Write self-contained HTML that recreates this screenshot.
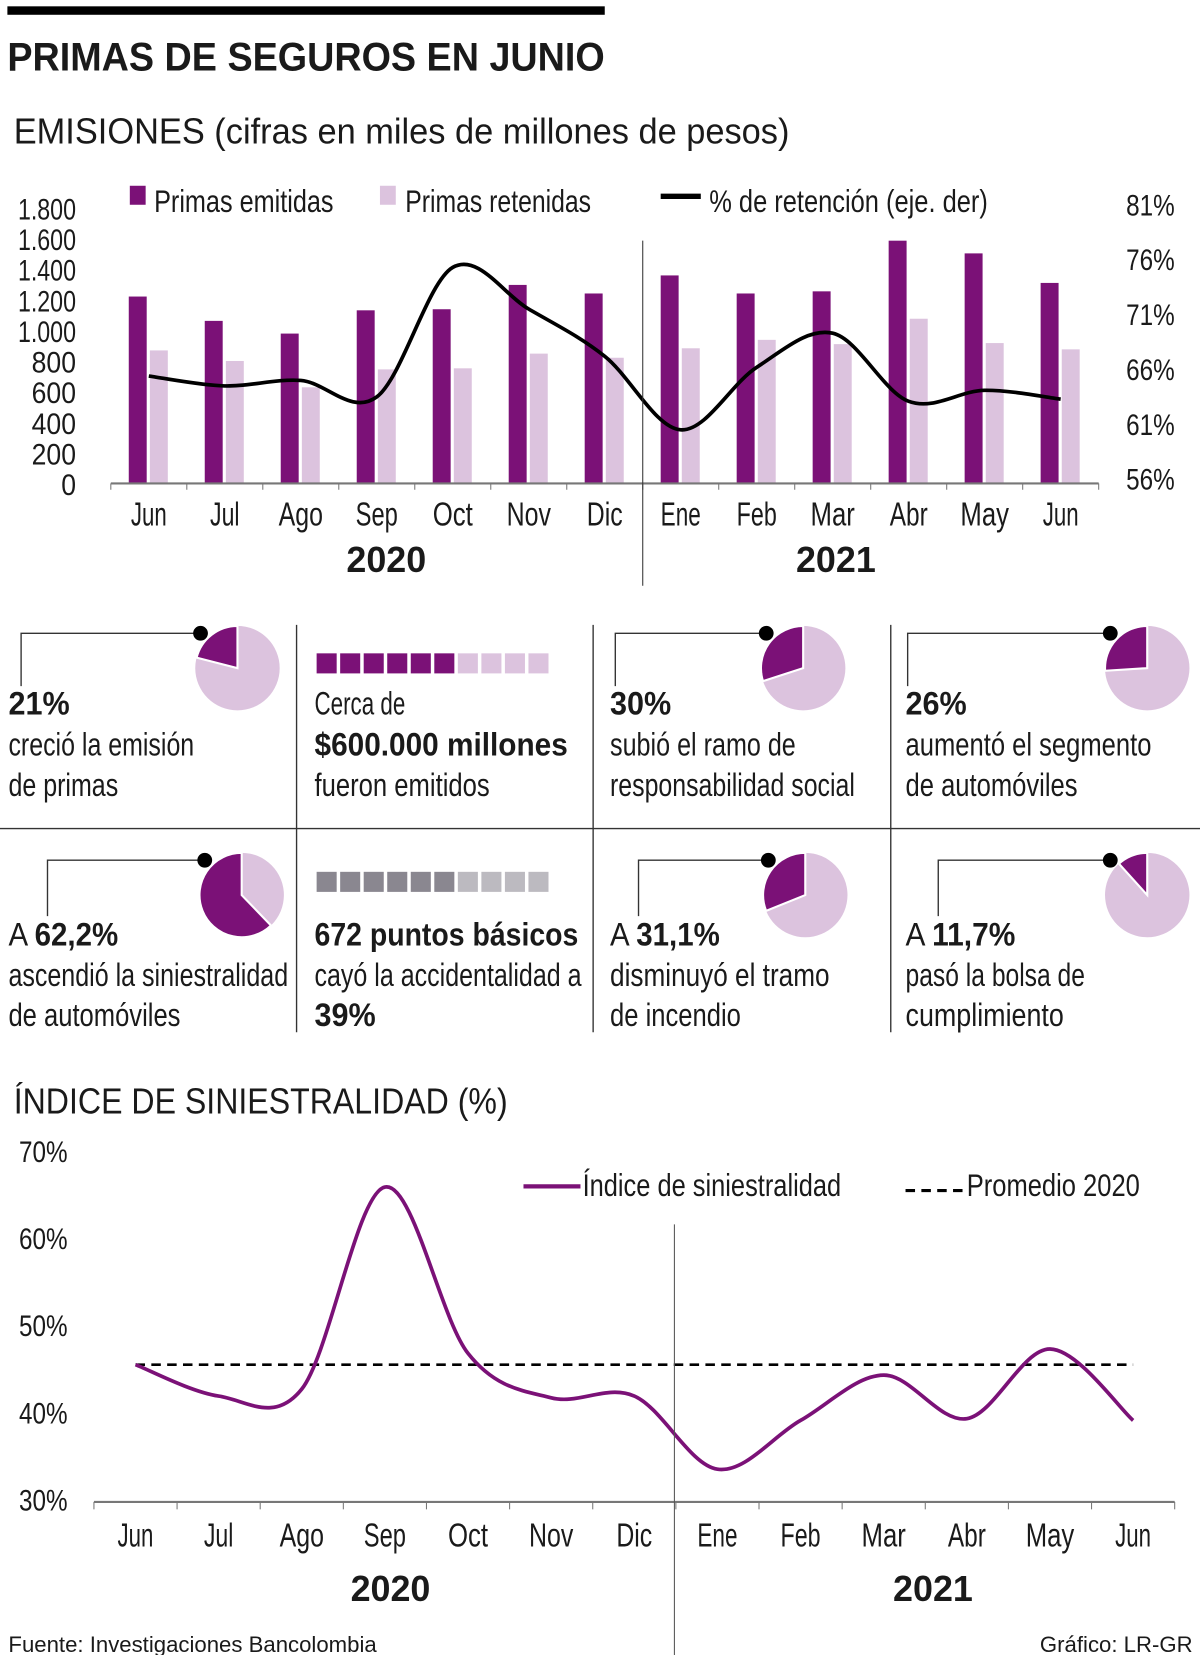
<!DOCTYPE html>
<html><head><meta charset="utf-8"><style>
html,body{margin:0;padding:0;background:#fff;width:1200px;height:1655px;overflow:hidden}
svg{display:block}
text{font-family:"Liberation Sans Narrow","Liberation Sans",sans-serif;fill:#1a1a1a}
.b{font-weight:bold}
</style></head><body>
<svg id="svg" width="1200" height="1655" viewBox="0 0 1137 1568" preserveAspectRatio="none" xmlns="http://www.w3.org/2000/svg">
<rect x="7" y="6" width="566" height="8" fill="#000"/>
<text x="7" y="67" font-size="38" class="b" textLength="566" lengthAdjust="spacingAndGlyphs">PRIMAS DE SEGUROS EN JUNIO</text>
<text x="13" y="136" font-size="34" textLength="735" lengthAdjust="spacingAndGlyphs">EMISIONES (cifras en miles de millones de pesos)</text>
<rect x="123" y="176" width="15" height="18" fill="#7b1177"/>
<text x="146" y="201" font-size="30" textLength="170" lengthAdjust="spacingAndGlyphs">Primas emitidas</text>
<rect x="360" y="176" width="15" height="18" fill="#dcc3de"/>
<text x="384" y="201" font-size="30" textLength="176" lengthAdjust="spacingAndGlyphs">Primas retenidas</text>
<line x1="626" y1="186" x2="664" y2="186" stroke="#000" stroke-width="5"/>
<text x="672" y="201" font-size="30" textLength="264" lengthAdjust="spacingAndGlyphs">% de retención (eje. der)</text>
<g id="topchart"></g>
<line x1="609" y1="228" x2="609" y2="555" stroke="#333" stroke-width="1"/>
<text x="366" y="542" font-size="34" class="b" text-anchor="middle">2020</text>
<text x="792" y="542" font-size="34" class="b" text-anchor="middle">2021</text>
<g stroke="#333" stroke-width="1.3">
<line x1="0" y1="785" x2="1137" y2="785"/>
<line x1="281" y1="592" x2="281" y2="978"/>
<line x1="562" y1="592" x2="562" y2="978"/>
<line x1="844" y1="592" x2="844" y2="978"/>
</g>
<g id="pies"></g>
<g id="squares"></g>
<g font-size="31">
<text x="8" y="677" class="b" textLength="58" lengthAdjust="spacingAndGlyphs">21%</text>
<text x="8" y="716" textLength="176" lengthAdjust="spacingAndGlyphs">creció la emisión</text>
<text x="8" y="754" textLength="104" lengthAdjust="spacingAndGlyphs">de primas</text>
<text x="298" y="677" textLength="86" lengthAdjust="spacingAndGlyphs">Cerca de</text>
<text x="298" y="716" class="b" textLength="240" lengthAdjust="spacingAndGlyphs">$600.000 millones</text>
<text x="298" y="754" textLength="166" lengthAdjust="spacingAndGlyphs">fueron emitidos</text>
<text x="578" y="677" class="b" textLength="58" lengthAdjust="spacingAndGlyphs">30%</text>
<text x="578" y="716" textLength="176" lengthAdjust="spacingAndGlyphs">subió el ramo de</text>
<text x="578" y="754" textLength="232" lengthAdjust="spacingAndGlyphs">responsabilidad social</text>
<text x="858" y="677" class="b" textLength="58" lengthAdjust="spacingAndGlyphs">26%</text>
<text x="858" y="716" textLength="233" lengthAdjust="spacingAndGlyphs">aumentó el segmento</text>
<text x="858" y="754" textLength="163" lengthAdjust="spacingAndGlyphs">de automóviles</text>
<text x="8" y="896" textLength="104" lengthAdjust="spacingAndGlyphs">A <tspan class="b">62,2%</tspan></text>
<text x="8" y="934" textLength="265" lengthAdjust="spacingAndGlyphs">ascendió la siniestralidad</text>
<text x="8" y="972" textLength="163" lengthAdjust="spacingAndGlyphs">de automóviles</text>
<text x="298" y="896" class="b" textLength="250" lengthAdjust="spacingAndGlyphs">672 puntos básicos</text>
<text x="298" y="934" textLength="253" lengthAdjust="spacingAndGlyphs">cayó la accidentalidad a</text>
<text x="298" y="972" class="b" textLength="58" lengthAdjust="spacingAndGlyphs">39%</text>
<text x="578" y="896" textLength="104" lengthAdjust="spacingAndGlyphs">A <tspan class="b">31,1%</tspan></text>
<text x="578" y="934" textLength="208" lengthAdjust="spacingAndGlyphs">disminuyó el tramo</text>
<text x="578" y="972" textLength="124" lengthAdjust="spacingAndGlyphs">de incendio</text>
<text x="858" y="896" textLength="104" lengthAdjust="spacingAndGlyphs">A <tspan class="b">11,7%</tspan></text>
<text x="858" y="934" textLength="170" lengthAdjust="spacingAndGlyphs">pasó la bolsa de</text>
<text x="858" y="972" textLength="150" lengthAdjust="spacingAndGlyphs">cumplimiento</text>
</g>
<text x="13" y="1055" font-size="34" textLength="468" lengthAdjust="spacingAndGlyphs">ÍNDICE DE SINIESTRALIDAD (%)</text>
<line x1="496" y1="1124" x2="550" y2="1124" stroke="#7b1177" stroke-width="4"/>
<text x="552" y="1133" font-size="30" textLength="245" lengthAdjust="spacingAndGlyphs">Índice de siniestralidad</text>
<line x1="858" y1="1128" x2="914" y2="1128" stroke="#000" stroke-width="3" stroke-dasharray="9,6"/>
<text x="916" y="1133" font-size="30" textLength="164" lengthAdjust="spacingAndGlyphs">Promedio 2020</text>
<g id="botchart"></g>
<line x1="639" y1="1160" x2="639" y2="1568" stroke="#555" stroke-width="1"/>
<text x="370" y="1517" font-size="34" class="b" text-anchor="middle">2020</text>
<text x="884" y="1517" font-size="34" class="b" text-anchor="middle">2021</text>
<text x="8" y="1565" font-size="21" style="font-family:'Liberation Sans',sans-serif">Fuente: Investigaciones Bancolombia</text>
<text x="1130" y="1565" font-size="21" text-anchor="end" style="font-family:'Liberation Sans',sans-serif">Gráfico: LR-GR</text>
</svg>
<script>
const months = ["Jun","Jul","Ago","Sep","Oct","Nov","Dic","Ene","Feb","Mar","Abr","May","Jun"];
const emitidas = [1221,1062,979,1131,1138,1297,1241,1359,1241,1255,1586,1503,1310];
const retenidas = [869,800,628,745,752,848,821,883,938,910,1076,917,876];
const retencion = [65.3,64.4,64.9,63.4,75.2,71.4,67.1,60.4,66.1,69.2,63.0,64.0,63.2];
const leftTicks = [0,200,400,600,800,1000,1200,1400,1600,1800];
const leftTickLabels = ["0","200","400","600","800","1.000","1.200","1.400","1.600","1.800"];
const rightTicks = [56,61,66,71,76,81];
const siniestralidad = [45.4,41.8,42.6,65.8,46.7,41.6,41.8,33.4,39.0,44.2,39.2,47.2,39.0];
const promedio2020 = 45.4;
const botTicks = [30,40,50,60,70];
const pieVals = [21,30,26,62.2,31.1,11.7];

const NS="http://www.w3.org/2000/svg";
function mk(tag,attrs,parent){const e=document.createElementNS(NS,tag);for(const k in attrs)e.setAttribute(k,attrs[k]);parent.appendChild(e);return e;}
function smooth(pts){let d="M"+pts[0][0]+","+pts[0][1];for(let i=0;i<pts.length-1;i++){const p0=pts[Math.max(0,i-1)],p1=pts[i],p2=pts[i+1],p3=pts[Math.min(pts.length-1,i+2)];const t=6;d+=" C"+(p1[0]+(p2[0]-p0[0])/t)+","+(p1[1]+(p2[1]-p0[1])/t)+" "+(p2[0]-(p3[0]-p1[0])/t)+","+(p2[1]-(p3[1]-p1[1])/t)+" "+p2[0]+","+p2[1];}return d;}
const labelW={"Jun":34,"Jul":28,"Ago":42,"Sep":40,"Oct":38,"Nov":42,"Dic":34,"Ene":38,"Feb":38,"Mar":42,"Abr":36,"May":46};

const topG=document.getElementById('topchart');
const x0=105,bw=72;
const yL=v=>458-v*0.145;
const yR=v=>453-(v-56)*10.4;
const xC=i=>x0+bw*i+bw/2;
leftTicks.forEach((v,i)=>{const t=mk('text',{x:72,y:yL(v)+11,'font-size':28,'text-anchor':'end',textLength:leftTickLabels[i].length>3?55:leftTickLabels[i].length*14,lengthAdjust:'spacingAndGlyphs'},topG);t.textContent=leftTickLabels[i];

});
rightTicks.forEach(v=>{const t=mk('text',{x:1113,y:yR(v)+11,'font-size':28,'text-anchor':'end',textLength:46,lengthAdjust:'spacingAndGlyphs'},topG);t.textContent=v+"%";

});
months.forEach((m,i)=>{
 const b1=mk('rect',{x:xC(i)-19,y:yL(emitidas[i]),width:17,height:458-yL(emitidas[i]),fill:'#7b1177'},topG);
 
 
 const b2=mk('rect',{x:xC(i)+1,y:yL(retenidas[i]),width:17,height:458-yL(retenidas[i]),fill:'#dcc3de'},topG);
 
 
 const t=mk('text',{x:xC(i),y:498,'font-size':32,'text-anchor':'middle',textLength:labelW[m]||36,lengthAdjust:'spacingAndGlyphs'},topG);t.textContent=m;
 
 
});
const ax=mk('line',{x1:x0,y1:458,x2:x0+bw*13,y2:458,stroke:'#777','stroke-width':2},topG);


for(let i=0;i<=13;i++){const tk=mk('line',{x1:x0+bw*i,y1:458,x2:x0+bw*i,y2:464,stroke:'#777','stroke-width':1},topG);

}
const rl=mk('path',{d:smooth(retencion.map((v,i)=>[xC(i),yR(v)])),fill:'none',stroke:'#000','stroke-width':3.5},topG);



const botG=document.getElementById('botchart');
const bx0=89,bbw=78.77;
const yB=v=>1420-(v-30)*8.25;
const bxC=i=>bx0+bbw*i+bbw/2;
botTicks.forEach(v=>{const t=mk('text',{x:64,y:yB(v)+11,'font-size':28,'text-anchor':'end',textLength:46,lengthAdjust:'spacingAndGlyphs'},botG);t.textContent=v+"%";

});
const bax=mk('line',{x1:bx0,y1:1423,x2:bx0+bbw*13,y2:1423,stroke:'#777','stroke-width':2},botG);


for(let i=0;i<=13;i++){const tk=mk('line',{x1:bx0+bbw*i,y1:1423,x2:bx0+bbw*i,y2:1430,stroke:'#777','stroke-width':1},botG);

}
months.forEach((m,i)=>{const t=mk('text',{x:bxC(i),y:1465,'font-size':32,'text-anchor':'middle',textLength:labelW[m]||36,lengthAdjust:'spacingAndGlyphs'},botG);t.textContent=m;

});
const pl=mk('line',{x1:bxC(0),y1:yB(promedio2020),x2:bxC(12),y2:yB(promedio2020),stroke:'#000','stroke-width':2.5,'stroke-dasharray':'9,6'},botG);


const sl=mk('path',{d:smooth(siniestralidad.map((v,i)=>[bxC(i),yB(v)])),fill:'none',stroke:'#7b1177','stroke-width':3.5},botG);



const pieCenters=[[225,633],[761,633],[1087,633],[229,848],[763,848],[1087,848]];
const pieLeads=[[20,650],[583,650],[860,650],[45,868],[605,868],[889,868]];
const piesG=document.getElementById('pies');
pieVals.forEach((p,i)=>{
 const cx=pieCenters[i][0],cy=pieCenters[i][1],r=40;
 const c=mk('circle',{cx:cx,cy:cy,r:r,fill:'#dcc3de'},piesG);
 
 
 const a=p/100*2*Math.PI;
 const ex=cx-r*Math.sin(a),ey=cy-r*Math.cos(a);
 const s=mk('path',{d:`M${cx},${cy} L${cx},${cy-r} A${r},${r} 0 ${p>50?1:0} 0 ${ex},${ey} Z`,fill:'#7b1177',stroke:'#fff','stroke-width':2},piesG);
 
 
 const dx=cx-35,dy=cy-33;
 const lx=pieLeads[i][0],ly=pieLeads[i][1];
 const l=mk('polyline',{points:`${dx},${dy} ${lx},${dy} ${lx},${ly}`,fill:'none',stroke:'#333','stroke-width':1.3},piesG);
 
 
 const d=mk('circle',{cx:dx,cy:dy,r:7,fill:'#000'},piesG);
 
 
});
const sqG=document.getElementById('squares');
const sqRows=[[619,'#7b1177','#dcc3de'],[826,'#8a8790','#bcbac0']];
const sqFilled=6,sqTotal=10;
sqRows.forEach(r=>{for(let i=0;i<sqTotal;i++){const e=mk('rect',{x:300+i*22.3,y:r[0],width:19,height:19,fill:i<sqFilled?r[1]:r[2]},sqG);

}});
</script>
</body></html>
